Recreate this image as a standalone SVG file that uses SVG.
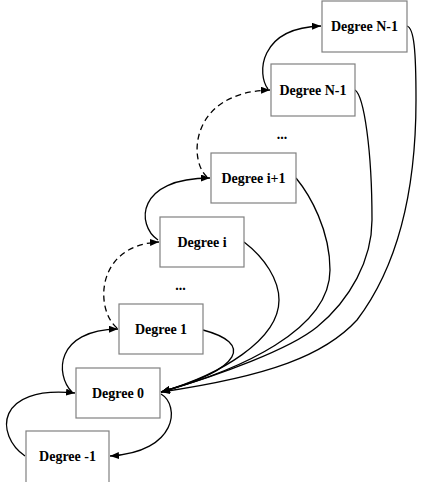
<svg xmlns="http://www.w3.org/2000/svg" width="425" height="482" viewBox="0 0 425 482">
<style>
.box{fill:#fff;stroke:#808080;stroke-width:1.2}
.lbl{font-family:"Liberation Serif","Times New Roman",serif;font-weight:bold;font-size:14px;text-anchor:middle;fill:#000}
.c{fill:none;stroke:#000;stroke-width:1.3}
.d{fill:none;stroke:#000;stroke-width:1.3;stroke-dasharray:6,4}
</style>
<defs>
<marker id="ah" markerUnits="userSpaceOnUse" markerWidth="10" markerHeight="8" refX="9" refY="3.5" orient="auto">
<path d="M0,0 L9,3.5 L0,7 z" fill="#000"/>
</marker>
</defs>
<rect width="425" height="482" fill="#fff"/>
<g id="connectors">
<path class="c" d="M25,456 C-5,435 -5,385 75,393" marker-end="url(#ah)"/>
<path class="c" d="M161,394 C180,405 178,452 110,456" marker-end="url(#ah)"/>
<path class="c" d="M72,392 C55,375 55,330 118,329" marker-end="url(#ah)"/>
<path class="d" d="M117,328 C95,310 95,245 159,242" marker-end="url(#ah)"/>
<path class="c" d="M158,240 C136,225 136,178 210,178" marker-end="url(#ah)"/>
<path class="d" d="M207,177 C188,160 190,92 270,90" marker-end="url(#ah)"/>
<path class="c" d="M268,89 C257,75 258,28 321,26" marker-end="url(#ah)"/>
<path class="c" d="M203,330 C252,343 245,368 161,392" marker-end="url(#ah)"/>
<path class="c" d="M244,242 C265,258 279,280 279,300 C279,340 220,375 161,392" marker-end="url(#ah)"/>
<path class="c" d="M296,178 C310,195 330,230 330,270 C330,330 240,370 161,392" marker-end="url(#ah)"/>
<path class="c" d="M355,90 C364,96 372,150 372,220 C372,260 350,300 317,327 C290,349 220,375 161,392" marker-end="url(#ah)"/>
<path class="c" d="M407,26 C414,28 416,50 416,100 C416,200 395,270 357,320 C325,355 270,376 161,392" marker-end="url(#ah)"/>
</g>
<g id="node-top">
<rect class="box" x="322" y="1" width="85" height="51"/>
<text class="lbl" x="364.5" y="31">Degree N-1</text>
</g>
<g id="node-n1">
<rect class="box" x="271" y="64" width="84" height="52"/>
<text class="lbl" x="313" y="95">Degree N-1</text>
</g>
<g id="dots-top">
<text class="lbl" x="282" y="139">...</text>
</g>
<g id="node-ip1">
<rect class="box" x="211" y="153" width="85" height="50"/>
<text class="lbl" x="253.5" y="183">Degree i+1</text>
</g>
<g id="node-i">
<rect class="box" x="160" y="217" width="84" height="50"/>
<text class="lbl" x="202" y="247">Degree i</text>
</g>
<g id="dots-mid">
<text class="lbl" x="180.5" y="290">...</text>
</g>
<g id="node-1">
<rect class="box" x="119" y="304" width="84" height="50"/>
<text class="lbl" x="161" y="334">Degree 1</text>
</g>
<g id="node-0">
<rect class="box" x="76" y="368" width="84" height="50"/>
<text class="lbl" x="118" y="398">Degree 0</text>
</g>
<g id="node-m1">
<rect class="box" x="26" y="431" width="83" height="54"/>
<text class="lbl" x="67.5" y="461">Degree -1</text>
</g>
</svg>
